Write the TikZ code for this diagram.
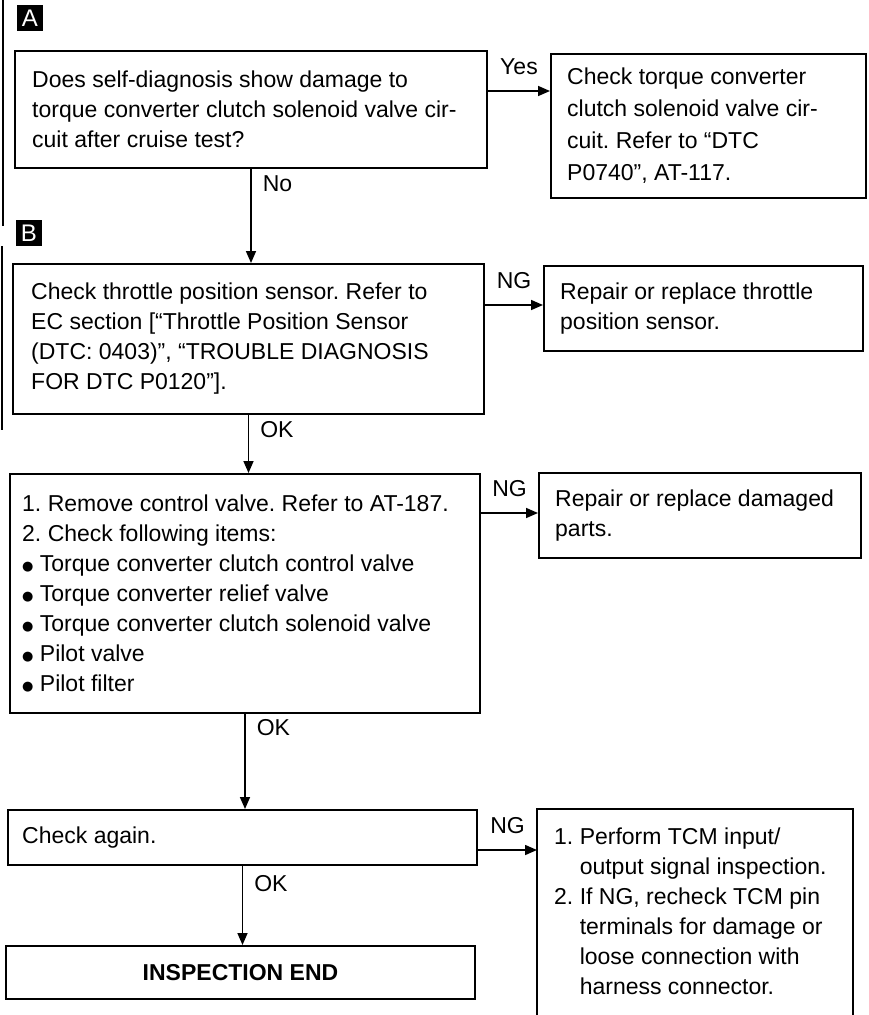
\documentclass[tikz,border=0pt]{standalone}
\usepackage{fontspec}
\setmainfont{Liberation Sans}
\newfontfamily\symfont{DejaVu Sans}
\usetikzlibrary{arrows.meta,positioning}

\frenchspacing
\newcommand{\chartfont}{\fontsize{23}{30}\selectfont}
\newcommand{\blt}{\raisebox{1.5pt}{\symfont\fontsize{13}{13}\selectfont ●}\ }

\tikzset{
  chk/.style={draw, line width=2pt, anchor=north west, inner sep=0pt},
  txt/.style={align=left, inner sep=0pt, font=\chartfont},
  tag/.style={fill=black, text=white, minimum size=26pt, inner sep=0pt, font=\fontsize{24}{24}\selectfont},
  flow/.style={line width=1.6pt, -{Triangle[length=12pt, width=10pt]}},
  lbl/.style={inner sep=1pt, font=\chartfont},
  edge/.style={line width=1.2pt}
}

\begin{document}
\begin{tikzpicture}[x=1pt, y=-1pt]
\useasboundingbox (0,0) rectangle (869,1015);

% left page edge
\draw[edge] (3,0) -- (3,226);
\draw[edge] (2,246) -- (2,430);

% A: self-diagnosis
\node[tag] (tagA) at (30,18) {A};
\node[chk, minimum width=472pt, minimum height=117pt] (diag) at (14,50) {};
\node[txt, right=18pt of diag.west] (diagt) {Does self-diagnosis show damage to\\torque converter clutch solenoid valve cir-\\cuit after cruise test?};
\node[chk, minimum width=315pt, minimum height=144pt] (tcc) at (550,53) {};
\node[txt, right=17pt of tcc.west, font=\fontsize{23}{32}\selectfont] (tcct) {Check torque converter\\clutch solenoid valve cir-\\cuit. Refer to “DTC\\P0740”, AT-117.};
\coordinate (yes) at (0,91);
\draw[flow] (diag.east |- yes) -- node[lbl, above=14pt] (yeslbl) {Yes} (tcc.west |- yes);

% B: throttle position sensor
\node[tag] (tagB) at (29,233) {B};
\node[chk, minimum width=471pt, minimum height=150pt] (tps) at (12,263) {};
\node[txt, right=19pt of tps.west] (tpst) {Check throttle position sensor. Refer to\\EC section [“Throttle Position Sensor\\(DTC: 0403)”, “TROUBLE DIAGNOSIS\\FOR DTC P0120”].};
\node[chk, minimum width=319pt, minimum height=85pt] (tpsfix) at (543,265) {};
\node[txt, right=17pt of tpsfix.west] (tpsfixt) {Repair or replace throttle\\position sensor.};
\coordinate (ng1) at (0,305);
\draw[flow] (tps.east |- ng1) -- node[lbl, above=14pt] (ng1lbl) {NG} (tpsfix.west |- ng1);
\draw[flow] (diag.south) -- node[lbl, pos=0.05, anchor=north west, xshift=10pt] (nolbl) {No} (diag.south |- tps.north);

% control valve
\node[chk, minimum width=470pt, minimum height=239pt] (cv) at (9,473) {};
\node[txt, right=13pt of cv.west] (cvt) {1. Remove control valve. Refer to AT-187.\\2. Check following items:\\\blt Torque converter clutch control valve\\\blt Torque converter relief valve\\\blt Torque converter clutch solenoid valve\\\blt Pilot valve\\\blt Pilot filter};
\node[chk, minimum width=322pt, minimum height=85pt] (cvfix) at (538,472) {};
\node[txt, right=17pt of cvfix.west] (cvfixt) {Repair or replace damaged\\parts.};
\coordinate (ng2) at (0,513);
\draw[flow] (cv.east |- ng2) -- node[lbl, above=14pt] (ng2lbl) {NG} (cvfix.west |- ng2);
\draw[flow] (tps.south) -- node[lbl, pos=0.08, anchor=north west, xshift=10pt] (ok1lbl) {OK} (tps.south |- cv.north);

% check again
\node[chk, minimum width=469pt, minimum height=55pt] (again) at (7,809) {};
\node[txt, right=15pt of again.west] (againt) {Check again.};
\node[inner sep=0pt, anchor=north west, minimum width=316pt, minimum height=220pt] (tcm) at (537,809) {};
\draw[line width=2pt] (tcm.south west) -- (tcm.north west) -- (tcm.north east) -- (tcm.south east);
\node[txt, anchor=north west] (tcmt) at ([xshift=17pt, yshift=-19pt]tcm.north west) {1. Perform TCM input/\\\phantom{1.\ }output signal inspection.\\2. If NG, recheck TCM pin\\\phantom{2.\ }terminals for damage or\\\phantom{2.\ }loose connection with\\\phantom{2.\ }harness connector.};
\coordinate (ng3) at (0,850);
\draw[flow] (again.east |- ng3) -- node[lbl, above=14pt] (ng3lbl) {NG} (tcm.west |- ng3);
\draw[flow] (cv.south) -- node[lbl, pos=0.04, anchor=north west, xshift=10pt] (ok2lbl) {OK} (cv.south |- again.north);

% end
\node[chk, minimum width=469pt, minimum height=53pt, font=\fontsize{23}{30}\selectfont\bfseries] (done) at (5,945) {INSPECTION END};
\draw[flow] (again.south) -- node[lbl, pos=0.1, anchor=north west, xshift=10pt] (ok3lbl) {OK} (again.south |- done.north);
\end{tikzpicture}
\end{document}
